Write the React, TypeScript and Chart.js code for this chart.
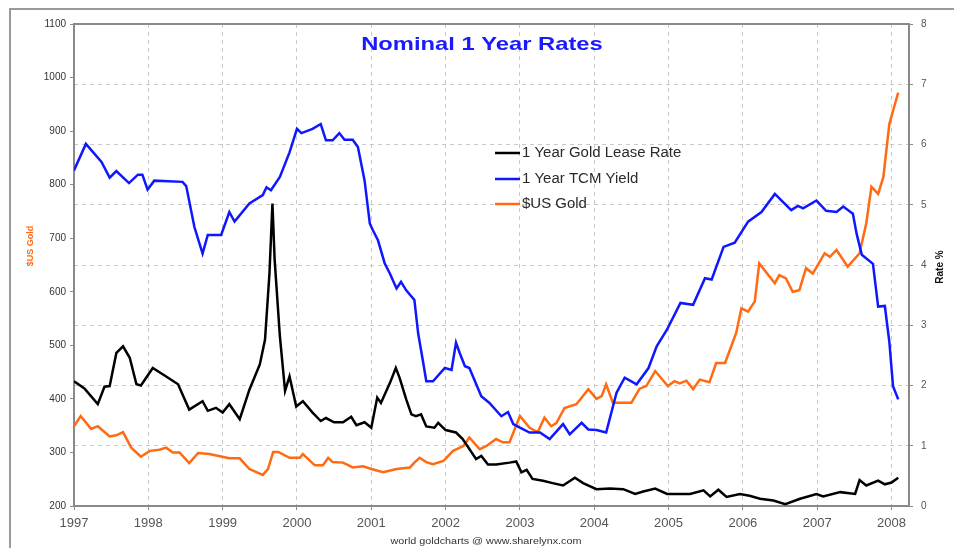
import { useEffect, useRef } from "react";
import { Chart, registerables } from "chart.js";

Chart.register(...registerables);

const yearTicks = [1997, 1998, 1999, 2000, 2001, 2002, 2003, 2004, 2005, 2006, 2007, 2008];

const seriesNames = ["1 Year Gold Lease Rate", "1 Year TCM Yield", "$US Gold"];
const seriesColors = ["#000000", "#0f17ff", "#ff6a12"];
const chartTitle = "Nominal 1 Year Rates";
const leftAxisTitle = "$US Gold";
const rightAxisTitle = "Rate %";
const footerText = "world goldcharts @ www.sharelynx.com";

// 1 Year Gold Lease Rate (%)
const leaseT = [
  1997.0, 1997.14, 1997.32, 1997.41, 1997.48, 1997.57, 1997.66, 1997.75, 1997.84, 1997.9,
  1998.06, 1998.24, 1998.4, 1998.55, 1998.73, 1998.8, 1998.91, 1999.0, 1999.09, 1999.23,
  1999.36, 1999.5, 1999.57, 1999.63, 1999.67, 1999.7, 1999.77, 1999.84, 1999.9, 1999.99,
  2000.08, 2000.21, 2000.32, 2000.39, 2000.5, 2000.62, 2000.73, 2000.8, 2000.91, 2001.0,
  2001.08, 2001.13, 2001.25, 2001.33, 2001.38, 2001.47, 2001.54, 2001.6, 2001.67, 2001.74,
  2001.85, 2001.9, 2002.0, 2002.14, 2002.23, 2002.35, 2002.41, 2002.48, 2002.57, 2002.68,
  2002.86, 2002.95, 2003.02, 2003.09, 2003.17, 2003.31, 2003.44, 2003.58, 2003.74, 2003.85,
  2004.03, 2004.21, 2004.39, 2004.55, 2004.66, 2004.82, 2004.98, 2005.29, 2005.47, 2005.56,
  2005.67, 2005.78, 2005.96, 2006.09, 2006.23, 2006.41, 2006.57, 2006.77, 2006.99, 2007.08,
  2007.31, 2007.51, 2007.57, 2007.66, 2007.82, 2007.91, 2008.0, 2008.09,
];
const leaseV = [
  2.07, 1.95, 1.69, 1.98, 1.99, 2.54, 2.65, 2.46, 2.02, 2.0,
  2.29, 2.15, 2.02, 1.6, 1.74, 1.58, 1.63, 1.55, 1.69, 1.44,
  1.93, 2.35, 2.76, 3.86, 5.02, 4.08, 2.82, 1.91, 2.15, 1.65,
  1.74, 1.55, 1.41, 1.46, 1.39, 1.39, 1.48, 1.34, 1.39, 1.3,
  1.8, 1.71, 2.04, 2.29, 2.13, 1.77, 1.52, 1.49, 1.52, 1.32,
  1.3, 1.38, 1.26, 1.22, 1.11, 0.89, 0.78, 0.83, 0.69, 0.69,
  0.72, 0.74, 0.56, 0.6, 0.45, 0.42, 0.38, 0.34, 0.47, 0.38,
  0.28, 0.29, 0.28, 0.2, 0.24, 0.29, 0.2, 0.2, 0.26, 0.16,
  0.27, 0.15, 0.2, 0.17, 0.12, 0.09, 0.03, 0.12, 0.2, 0.16,
  0.23, 0.2, 0.43, 0.34, 0.42, 0.36, 0.39, 0.47,
];

// 1 Year TCM Yield (%)
const tcmT = [
  1997.0, 1997.16, 1997.37, 1997.48, 1997.57, 1997.74, 1997.86, 1997.92, 1997.99, 1998.08,
  1998.46, 1998.51, 1998.62, 1998.73, 1998.8, 1998.98, 1999.09, 1999.16, 1999.36, 1999.54,
  1999.59, 1999.65, 1999.77, 1999.9, 2000.0, 2000.06, 2000.21, 2000.32, 2000.39, 2000.48,
  2000.57, 2000.64, 2000.75, 2000.82, 2000.91, 2000.98, 2001.02, 2001.09, 2001.18, 2001.25,
  2001.34, 2001.4, 2001.47, 2001.58, 2001.63, 2001.7, 2001.74, 2001.83, 2001.99, 2002.08,
  2002.14, 2002.19, 2002.26, 2002.32, 2002.48, 2002.59, 2002.75, 2002.84, 2002.91, 2003.0,
  2003.13, 2003.27, 2003.4, 2003.58, 2003.67, 2003.83, 2003.92, 2004.03, 2004.16, 2004.3,
  2004.41, 2004.57, 2004.73, 2004.84, 2004.98, 2005.16, 2005.33, 2005.49, 2005.58, 2005.74,
  2005.89, 2006.07, 2006.25, 2006.43, 2006.65, 2006.74, 2006.81, 2006.99, 2007.12, 2007.26,
  2007.35, 2007.48, 2007.53, 2007.6, 2007.75, 2007.82, 2007.91, 2007.97, 2008.02, 2008.09,
];
const tcmV = [
  5.57, 6.01, 5.71, 5.45, 5.56, 5.36, 5.5, 5.5, 5.25, 5.4,
  5.38, 5.31, 4.63, 4.19, 4.5, 4.5, 4.88, 4.72, 5.02, 5.16,
  5.29, 5.24, 5.46, 5.87, 6.26, 6.19, 6.26, 6.34, 6.07, 6.07,
  6.19, 6.08, 6.08, 5.96, 5.4, 4.69, 4.58, 4.41, 4.03, 3.86,
  3.61, 3.72, 3.58, 3.42, 2.87, 2.37, 2.07, 2.07, 2.29, 2.26,
  2.71, 2.54, 2.32, 2.29, 1.82, 1.71, 1.49, 1.56, 1.36, 1.3,
  1.22, 1.22, 1.11, 1.36, 1.19, 1.38, 1.27, 1.26, 1.22, 1.88,
  2.13, 2.02, 2.29, 2.65, 2.93, 3.37, 3.34, 3.78, 3.76, 4.3,
  4.37, 4.72, 4.88, 5.18, 4.91, 4.98, 4.94, 5.07, 4.9, 4.88,
  4.97, 4.85, 4.52, 4.17, 4.02, 3.31, 3.32, 2.73, 1.99, 1.77,
];

// $US Gold price
const goldT = [
  1997.0, 1997.09, 1997.23, 1997.32, 1997.48, 1997.57, 1997.66, 1997.77, 1997.9, 1998.02,
  1998.15, 1998.24, 1998.33, 1998.42, 1998.55, 1998.67, 1998.82, 1999.09, 1999.23, 1999.36,
  1999.54, 1999.61, 1999.68, 1999.75, 1999.9, 2000.04, 2000.08, 2000.24, 2000.35, 2000.42,
  2000.48, 2000.62, 2000.75, 2000.89, 2001.0, 2001.16, 2001.34, 2001.52, 2001.58, 2001.65,
  2001.74, 2001.83, 2001.97, 2002.1, 2002.24, 2002.32, 2002.46, 2002.55, 2002.68, 2002.77,
  2002.86, 2003.0, 2003.13, 2003.24, 2003.33, 2003.42, 2003.49, 2003.6, 2003.76, 2003.92,
  2004.03, 2004.1, 2004.16, 2004.25, 2004.5, 2004.61, 2004.7, 2004.82, 2004.99, 2005.08,
  2005.15, 2005.24, 2005.33, 2005.42, 2005.55, 2005.64, 2005.76, 2005.91, 2005.98, 2006.07,
  2006.16, 2006.22, 2006.43, 2006.49, 2006.58, 2006.67, 2006.76, 2006.85, 2006.94, 2007.1,
  2007.17, 2007.26, 2007.41, 2007.57, 2007.66, 2007.73, 2007.82, 2007.89, 2007.97, 2008.02,
  2008.09,
];
const goldV = [
  349, 368, 344, 349, 330, 332, 338, 309, 292, 303,
  305, 309, 300, 300, 280, 299, 297, 289, 289, 269,
  258, 269, 301, 301, 290, 290, 297, 276, 276, 290,
  282, 281, 272, 274, 269, 263, 269, 272, 281, 290,
  282, 278, 284, 303, 312, 328, 306, 312, 325, 319,
  319, 368, 346, 338, 365, 349, 355, 383, 390, 418,
  400, 405, 427, 393, 393, 419, 424, 452, 424, 433,
  429, 434, 418, 436, 431, 467, 467, 523, 569, 563,
  582, 653, 616, 631, 625, 600, 603, 644, 634, 672,
  665, 678, 647, 672, 728, 796, 783, 814, 913, 938,
  972,
];

const FONT = '"Liberation Sans", Arial, Helvetica, sans-serif';

const toPoints = (t: number[], v: number[]) => t.map((x, i) => ({ x, y: v[i] }));

const decorPlugin = {
  id: "decor",
  beforeDraw(chart: any) {
    const ctx = chart.ctx;
    ctx.save();
    ctx.fillStyle = "#ffffff";
    ctx.fillRect(0, 0, chart.width, chart.height);
    ctx.strokeStyle = "#9a9a9a";
    ctx.lineWidth = 2;
    ctx.beginPath();
    ctx.moveTo(10, chart.height);
    ctx.lineTo(10, 9);
    ctx.lineTo(chart.width, 9);
    ctx.stroke();
    ctx.restore();
  },
  afterDraw(chart: any) {
    const ctx = chart.ctx;
    const a = chart.chartArea;
    ctx.save();
    // top border of plot area
    ctx.strokeStyle = "#8a8a8a";
    ctx.lineWidth = 2;
    ctx.beginPath();
    ctx.moveTo(a.left, a.top);
    ctx.lineTo(a.right, a.top);
    ctx.stroke();

    // title
    ctx.fillStyle = "#1a1aff";
    ctx.font = `bold 19px ${FONT}`;
    ctx.textAlign = "center";
    ctx.textBaseline = "middle";
    ctx.save();
    ctx.translate(482, 45);
    ctx.scale(1.25, 1);
    ctx.fillText(chartTitle, 0, 0);
    ctx.restore();

    // legend
    const rows = [153, 179, 204];
    seriesNames.forEach((name, i) => {
      ctx.strokeStyle = seriesColors[i];
      ctx.lineWidth = 2.5;
      ctx.beginPath();
      ctx.moveTo(495, rows[i]);
      ctx.lineTo(520, rows[i]);
      ctx.stroke();
      ctx.fillStyle = "#2a2a2a";
      ctx.font = `14px ${FONT}`;
      ctx.textAlign = "left";
      ctx.textBaseline = "middle";
      ctx.save();
      ctx.translate(522, rows[i] + 0.5);
      ctx.scale(1.07, 1);
      ctx.fillText(name, 0, 0);
      ctx.restore();
    });

    // left axis title
    ctx.save();
    ctx.translate(31, 246);
    ctx.rotate(-Math.PI / 2);
    ctx.fillStyle = seriesColors[2];
    ctx.font = `bold 9px ${FONT}`;
    ctx.textAlign = "center";
    ctx.textBaseline = "middle";
    ctx.fillText(leftAxisTitle, 0, 0);
    ctx.restore();

    // right axis title
    ctx.save();
    ctx.translate(940, 267);
    ctx.rotate(-Math.PI / 2);
    ctx.fillStyle = "#111111";
    ctx.font = `bold 10px ${FONT}`;
    ctx.textAlign = "center";
    ctx.textBaseline = "middle";
    ctx.fillText(rightAxisTitle, 0, 0);
    ctx.restore();

    // footer
    ctx.save();
    ctx.translate(486, 542);
    ctx.scale(1.2, 1);
    ctx.fillStyle = "#333333";
    ctx.font = `9px ${FONT}`;
    ctx.textAlign = "center";
    ctx.textBaseline = "middle";
    ctx.fillText(footerText, 0, 0);
    ctx.restore();

    ctx.restore();
  },
};

export default function App() {
  const ref = useRef<HTMLCanvasElement | null>(null);

  useEffect(() => {
    if (!ref.current) return;
    const gridCol = "#c9c9c9";
    const axisCol = "#8a8a8a";
    const chart = new Chart(ref.current, {
      type: "line",
      data: {
        datasets: [
          {
            label: seriesNames[0],
            data: toPoints(leaseT, leaseV),
            borderColor: seriesColors[0],
            backgroundColor: seriesColors[0],
            borderWidth: 2.5,
            pointRadius: 0,
            yAxisID: "yRate",
          },
          {
            label: seriesNames[1],
            data: toPoints(tcmT, tcmV),
            borderColor: seriesColors[1],
            backgroundColor: seriesColors[1],
            borderWidth: 2.5,
            pointRadius: 0,
            yAxisID: "yRate",
          },
          {
            label: seriesNames[2],
            data: toPoints(goldT, goldV),
            borderColor: seriesColors[2],
            backgroundColor: seriesColors[2],
            borderWidth: 2.5,
            pointRadius: 0,
            yAxisID: "yGold",
          },
        ],
      },
      plugins: [decorPlugin],
      options: {
        responsive: false,
        animation: false,
        devicePixelRatio: 1,
        layout: { padding: { top: 24, left: 0, right: 0, bottom: 0 } },
        plugins: {
          legend: { display: false },
          title: { display: false },
          tooltip: { enabled: false },
        },
        scales: {
          x: {
            type: "linear",
            position: "bottom",
            min: 1997,
            max: 2008.235,
            afterBuildTicks: (s: any) => {
              s.ticks = yearTicks.map((v) => ({ value: v }));
            },
            afterFit: (s: any) => {
              s.height = 42;
            },
            ticks: {
              autoSkip: false,
              maxRotation: 0,
              padding: 6,
              color: "#555555",
              font: { family: FONT, size: 13 },
              callback: (v: any) => String(v),
            },
            grid: {
              color: (c: any) => (c.tick && c.tick.value === 1997 ? "rgba(0,0,0,0)" : gridCol),
              tickColor: axisCol,
              tickLength: 4,
              lineWidth: 1,
            },
            border: { color: axisCol, width: 2, dash: [4, 4] },
          },
          yGold: {
            type: "linear",
            position: "left",
            min: 200,
            max: 1100,
            afterFit: (s: any) => {
              s.width = 74;
            },
            ticks: {
              stepSize: 100,
              padding: 4,
              color: "#333333",
              font: { family: FONT, size: 10 },
              callback: (v: any) => String(v),
            },
            grid: {
              drawOnChartArea: false,
              tickColor: axisCol,
              tickLength: 4,
            },
            border: { color: axisCol, width: 2 },
          },
          yRate: {
            type: "linear",
            position: "right",
            min: 0,
            max: 8,
            afterFit: (s: any) => {
              s.width = 45;
            },
            ticks: {
              stepSize: 1,
              padding: 8,
              color: "#555555",
              font: { family: FONT, size: 10 },
              callback: (v: any) => String(v),
            },
            grid: {
              color: (c: any) =>
                c.tick && (c.tick.value === 0 || c.tick.value === 8) ? "rgba(0,0,0,0)" : gridCol,
              tickColor: axisCol,
              tickLength: 4,
              lineWidth: 1,
            },
            border: { color: axisCol, width: 2, dash: [4, 4] },
          },
        },
      },
    } as any);
    return () => chart.destroy();
  }, []);

  return (
    <div style={{ position: "fixed", left: 0, top: 0, width: 954, height: 548, background: "#fff" }}>
      <canvas ref={ref} width={954} height={548} style={{ display: "block", width: 954, height: 548 }} />
    </div>
  );
}
